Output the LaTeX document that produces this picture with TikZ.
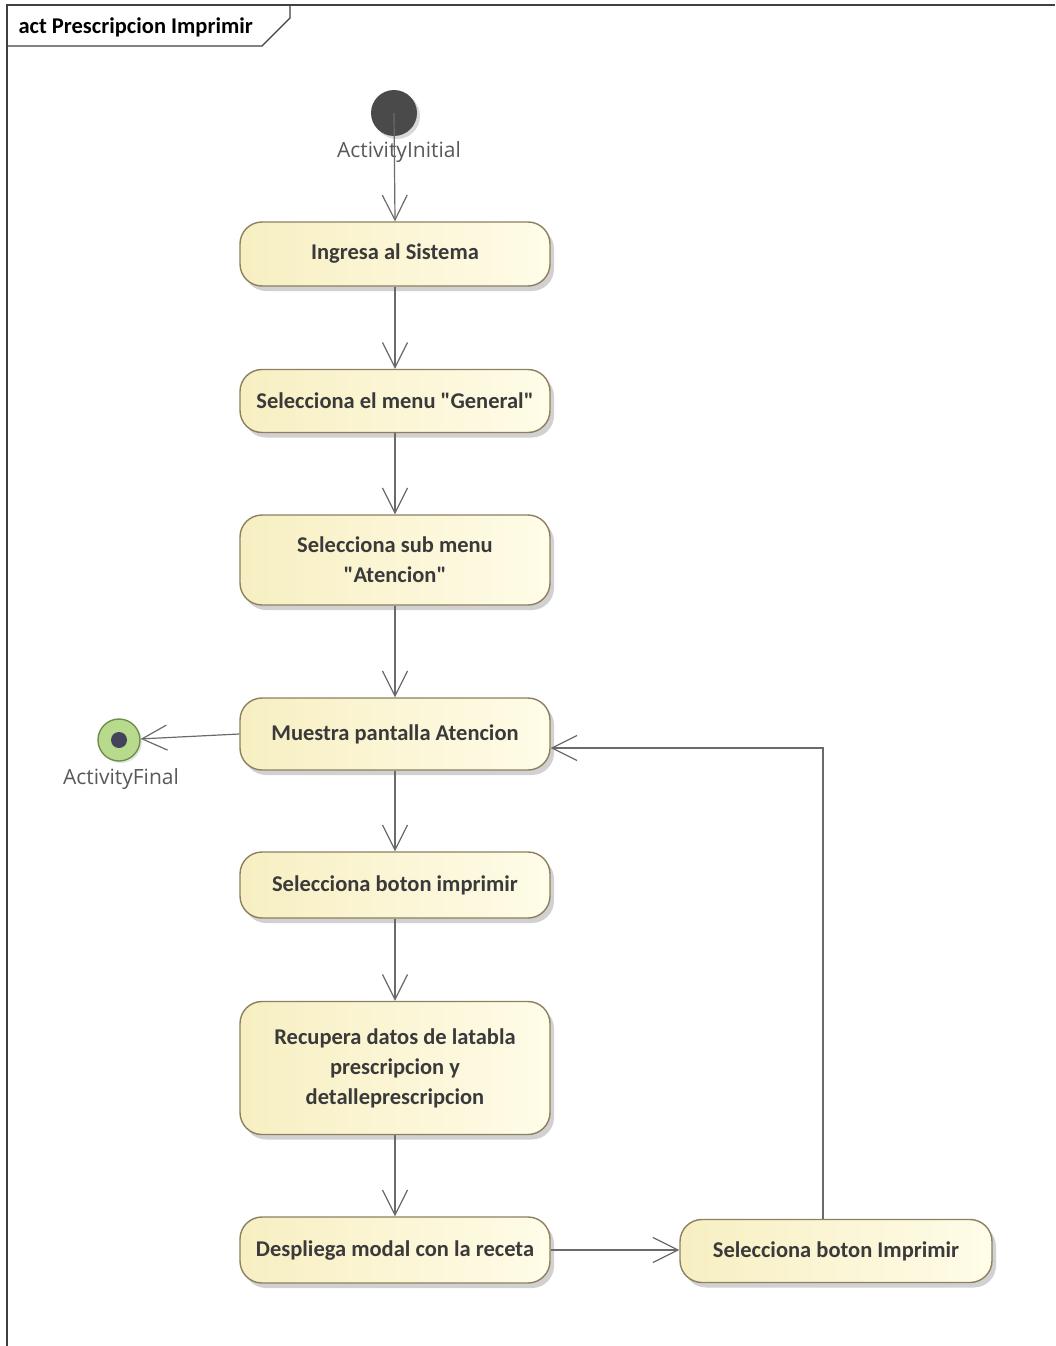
\documentclass[tikz,border=0pt]{standalone}
\usepackage{fontspec}
\newfontfamily\mainf{Carlito}[Ligatures=NoCommon]
\newfontfamily\lblfont{Open Sans}
\usetikzlibrary{arrows.meta,shadows,positioning,calc}
\definecolor{boxborder}{HTML}{8C8060}
\definecolor{boxleft}{HTML}{F7EFC2}
\definecolor{boxright}{HTML}{FFFCE8}
\definecolor{txt}{HTML}{3A3A3A}
\definecolor{edge}{HTML}{6A6A6A}
\definecolor{finfill}{HTML}{B7DA8C}
\definecolor{finborder}{HTML}{6E8F4C}
\definecolor{initfill}{HTML}{4A4A4A}
\begin{document}
\begin{tikzpicture}[x=1pt,y=-1pt,
  action/.style={draw=boxborder, line width=1.4pt, rounded corners=22pt,
    left color=boxleft, right color=boxright, minimum width=310pt,
    text=txt, font=\mainf\fontsize{22.5}{30}\selectfont\bfseries, align=center,
    drop shadow={shadow xshift=4pt, shadow yshift=-5pt, fill=black!40, opacity=0.45}},
  arr/.style={draw=edge, line width=1.2pt, -{Straight Barb[length=25pt,width=25pt,line width=1.2pt]}},
  lbl/.style={text=black!65, font=\lblfont\fontsize{21}{24}\selectfont, inner sep=0pt}
]
\useasboundingbox (0,0) rectangle (1055,1346);
% frame
\draw[black!75, line width=1.3pt] (1055,5) -- (7,5) -- (7,1346);
\draw[black!75, line width=1.3pt] (7,46) -- (262,46) -- (290,18) -- (290,5);
\node[anchor=west, text=black, font=\mainf\fontsize{22.5}{26}\selectfont\bfseries] (title) at (15,27) {act Prescripcion Imprimir};

% initial
\node[circle, fill=initfill, minimum size=46pt, inner sep=0pt,
  drop shadow={shadow xshift=3pt, shadow yshift=-3pt, fill=black!30, opacity=0.5}] (init) at (394,113) {};
\node[lbl] (initlbl) at (399,152) {ActivityInitial};

% actions
\node[action, minimum height=64pt] (n1) at (395,254) {Ingresa al Sistema};
\node[action, minimum height=63pt] (n2) at (395,401) {Selecciona el menu "General"};
\node[action, minimum height=90pt] (n3) at (395,560) {Selecciona sub menu\\"Atencion"};
\node[action, minimum height=72pt] (n4) at (395,734) {Muestra pantalla Atencion};
\node[action, minimum height=66pt] (n5) at (395,885) {Selecciona boton imprimir};
\node[action, minimum height=133pt] (n6) at (395,1068) {Recupera datos de latabla\\prescripcion y\\detalleprescripcion};
\node[action, minimum height=66pt] (n7) at (395,1250) {Despliega modal con la receta};
\node[action, minimum height=63pt, minimum width=312pt] (n8) at (836,1251) {Selecciona boton Imprimir};

% final
\node[circle, draw=finborder, line width=1.4pt, fill=finfill, minimum size=42pt, inner sep=0pt,
  drop shadow={shadow xshift=2pt, shadow yshift=-2pt, fill=black!20, opacity=0.5}] (fin) at (119,740) {};
\node[circle, fill=initfill!90!blue, minimum size=16pt, inner sep=0pt] (findot) at (fin) {};
\node[lbl] (finlbl) at (121,779) {ActivityFinal};

% edges
\draw[arr] (init.center) -- (n1.north);
\draw[arr] (n1) -- (n2);
\draw[arr] (n2) -- (n3);
\draw[arr] (n3) -- (n4);
\draw[arr] (n4) -- (n5);
\draw[arr] (n5) -- (n6);
\draw[arr] (n6) -- (n7);
\draw[arr] (n7.east) -- (n7.east -| n8.west);
\draw[arr] ([xshift=-13pt]n8.north) |- ([yshift=-14pt]n4.east);
\draw[arr] (n4.west) -- (fin);
\end{tikzpicture}
\end{document}
